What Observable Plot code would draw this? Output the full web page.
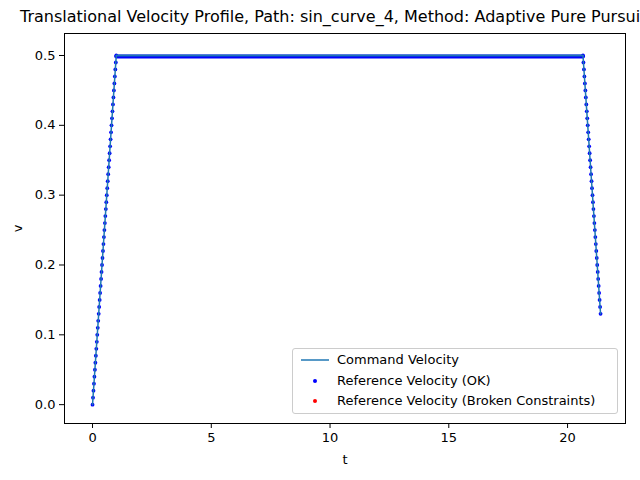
<!DOCTYPE html>
<html><head><meta charset="utf-8">
<script src="https://cdn.jsdelivr.net/npm/d3@7"></script>
<script src="https://cdn.jsdelivr.net/npm/@observablehq/plot@0.6"></script>
<style>
body{margin:0;background:#fff;font-family:"DejaVu Sans",sans-serif;}
#wrap{position:relative;width:640px;height:480px;}
#title{height:30px;line-height:34px;font-size:16px;white-space:nowrap;overflow:hidden;padding-left:20px;box-sizing:border-box;width:640px;}
#legend{position:absolute;left:292px;top:348px;width:324px;height:64px;border:1px solid #ccc;border-radius:3px;background:rgba(255,255,255,0.8);font-size:13px;}
#legend div{position:absolute;left:44px;}
</style></head>
<body><div id="wrap">
<div id="title">Translational Velocity Profile, Path: sin_curve_4, Method: Adaptive Pure Pursuit</div>
<div id="chart"></div>
<div id="legend">
  <svg width="44" height="64" style="position:absolute;left:0;top:0">
    <line x1="8" x2="36" y1="11" y2="11" stroke="#1f77b4" stroke-width="1.5"/>
    <circle cx="22" cy="32" r="2" fill="blue"/>
    <circle cx="22" cy="52" r="2" fill="red"/>
  </svg>
  <div style="top:3px">Command Velocity</div>
  <div style="top:24px">Reference Velocity (OK)</div>
  <div style="top:44px">Reference Velocity (Broken Constraints)</div>
</div>
</div>
<script>
// ramp up
const upT = [0,0.02,0.04,0.06,0.08,0.1,0.12,0.14,0.16,0.18,0.2,0.22,0.24,0.26,0.28,0.3,0.32,0.34,0.36,0.38,0.4,0.42,0.44,0.46,0.48,0.5,0.52,0.54,0.56,0.58,0.6,0.62,0.64,0.66,0.68,0.7,0.72,0.74,0.76,0.78,0.8,0.82,0.84,0.86,0.88,0.9,0.92,0.94,0.96,0.98,1.0];
const upV = [0,0.01,0.02,0.03,0.04,0.05,0.06,0.07,0.08,0.09,0.1,0.11,0.12,0.13,0.14,0.15,0.16,0.17,0.18,0.19,0.2,0.21,0.22,0.23,0.24,0.25,0.26,0.27,0.28,0.29,0.3,0.31,0.32,0.33,0.34,0.35,0.36,0.37,0.38,0.39,0.4,0.41,0.42,0.43,0.44,0.45,0.46,0.47,0.48,0.49,0.5];
// ramp down
const downT = [20.65,20.67,20.69,20.71,20.73,20.75,20.77,20.79,20.81,20.83,20.85,20.87,20.89,20.91,20.93,20.95,20.97,20.99,21.01,21.03,21.05,21.07,21.09,21.11,21.13,21.15,21.17,21.19,21.21,21.23,21.25,21.27,21.29,21.31,21.33,21.35,21.37,21.39];
const downV = [0.5,0.49,0.48,0.47,0.46,0.45,0.44,0.43,0.42,0.41,0.4,0.39,0.38,0.37,0.36,0.35,0.34,0.33,0.32,0.31,0.3,0.29,0.28,0.27,0.26,0.25,0.24,0.23,0.22,0.21,0.2,0.19,0.18,0.17,0.16,0.15,0.14,0.13];
// cruise segment (dense reference points drawn as a band)
const flatT = [1.0, 20.65];
const flatV = 0.5;

const pts = upT.map((t,i)=>({t, v:upV[i]})).concat(downT.map((t,i)=>({t, v:downV[i]})));
const flat = flatT.map(t=>({t, v:flatV}));

const chart = Plot.plot({
  width: 640, height: 450,
  marginTop: 3, marginBottom: 57, marginLeft: 64, marginRight: 15,
  style: {fontFamily: "DejaVu Sans", fontSize: "13px", color: "black"},
  x: {domain: [-1.18, 22.44], ticks: [0,5,10,15,20], label: "t", labelAnchor: "center", labelArrow: "none", labelOffset: 40, tickSize: 5},
  y: {domain: [-0.027, 0.5315], ticks: [0,0.1,0.2,0.3,0.4,0.5], tickFormat: ".1f", label: "v", labelAnchor: "center", labelArrow: "none", labelOffset: 52, tickSize: 5},
  marks: [
    Plot.frame({stroke: "black"}),
    Plot.line(flat, {x: "t", y: "v", stroke: "blue", strokeWidth: 4, dy: 1}),
    Plot.dot(pts, {x: "t", y: "v", fill: "blue", r: 1.9}),
    Plot.line(pts, {x: "t", y: "v", stroke: "#1f77b4", strokeWidth: 1.5}),
    Plot.line(flat, {x: "t", y: "v", stroke: "#1f77b4", strokeWidth: 1.5})
  ]
});
d3.select('#chart').append(() => chart);
</script>
</body></html>
